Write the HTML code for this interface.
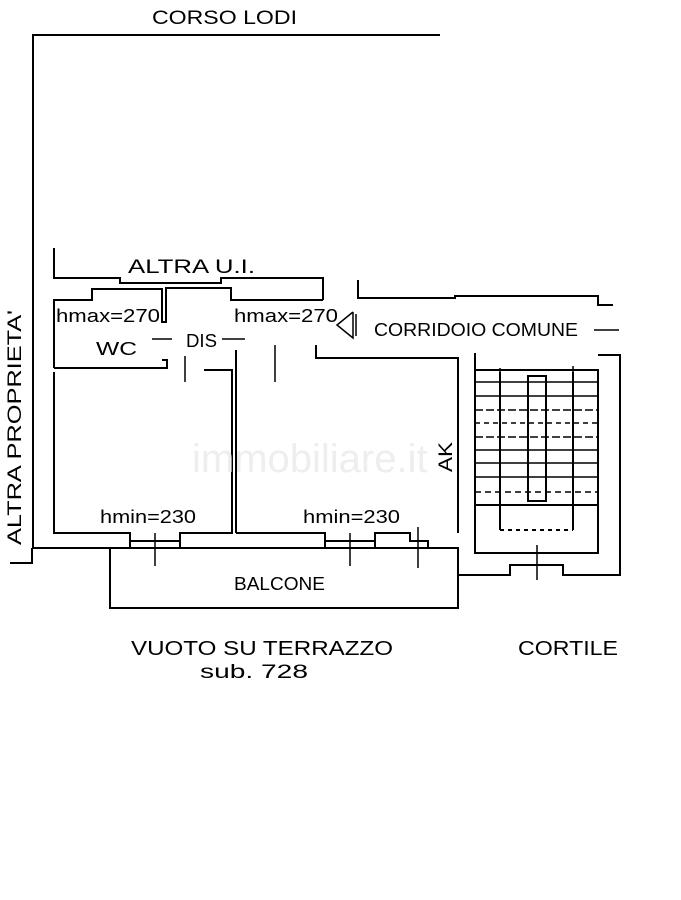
<!DOCTYPE html>
<html><head><meta charset="utf-8"><style>
html,body{margin:0;padding:0;background:#fff;width:681px;height:900px;overflow:hidden}
svg{display:block}
text{font-family:"Liberation Sans",sans-serif;fill:#000}
</style></head><body>
<svg width="681" height="900" viewBox="0 0 681 900" xmlns="http://www.w3.org/2000/svg">
<g stroke="#000" stroke-width="2" fill="none">
<polyline points="440,35 33,35 33,548"/>
<polyline points="10,563 32,563 32,548"/>
<line x1="33" y1="548" x2="428" y2="548"/>
<polyline points="54,248 54,278 120,278 120,283 221,283 221,278 323,278 323,300"/>
<polyline points="54,368 54,300 92,300 92,289 162,289 162,322 166,322 166,288 231,288 231,300 323,300"/>
<polyline points="54,368 167,368 167,360 162,360"/>
<polyline points="54,372 54,533 130,533 130,548"/>
<polyline points="180,548 180,533 232,533 232,370 204,370"/>
<line x1="236" y1="533" x2="236" y2="350"/>
<polyline points="236,533 325,533 325,548"/>
<polyline points="130,541 180,541"/>
<polyline points="325,541 375,541"/>
<polyline points="375,548 375,533 410,533 410,541 428,541 428,548"/>
<polyline points="316,345 316,358 458,358 458,533"/>
<polyline points="428,548 458,548 458,608 110,608 110,548"/>
<polyline points="358,280 358,298 455,298 455,296 475,296 598,296 598,305 613,305"/>
<polyline points="475,353 475,553 598,553 598,370 475,370"/>
<polyline points="598,355 620,355 620,575 563,575 563,565 510,565 510,575 458,575"/>
<rect x="528" y="376" width="18" height="125"/>
<line x1="500" y1="372" x2="500" y2="530"/>
<line x1="573" y1="372" x2="573" y2="530"/>
<line x1="500" y1="530" x2="573" y2="530" stroke-dasharray="4,4"/>
<line x1="475" y1="505" x2="598" y2="505"/>
</g>
<g stroke="#000" stroke-width="1.5">
<line x1="475" y1="382" x2="598" y2="382"/><line x1="475" y1="396" x2="598" y2="396"/>
<line x1="475" y1="410" x2="598" y2="410" stroke-dasharray="8,3"/><line x1="475" y1="423" x2="598" y2="423" stroke-dasharray="5,4"/>
<line x1="475" y1="437" x2="598" y2="437" stroke-dasharray="8,3"/><line x1="475" y1="450" x2="598" y2="450"/>
<line x1="475" y1="463" x2="598" y2="463"/><line x1="475" y1="477" x2="598" y2="477"/>
<line x1="475" y1="492" x2="598" y2="492" stroke-dasharray="6,4"/>
<line x1="155" y1="533" x2="155" y2="566"/><line x1="350" y1="533" x2="350" y2="566"/>
<line x1="418" y1="527" x2="418" y2="568"/><line x1="537" y1="545" x2="537" y2="580"/>
<line x1="185" y1="356" x2="185" y2="382"/><line x1="275" y1="345" x2="275" y2="382"/>
<line x1="152" y1="339" x2="172" y2="339"/><line x1="222" y1="339" x2="245" y2="339"/>
<line x1="594" y1="330" x2="619" y2="330"/>
<polyline points="353,312 337,325 353,338 353,312" fill="none"/>
<line x1="356" y1="314" x2="356" y2="336"/>
<line x1="500" y1="372" x2="500" y2="368"/><line x1="573" y1="366" x2="573" y2="372"/>
</g>
<text x="152" y="24" font-size="19" textLength="145" lengthAdjust="spacingAndGlyphs">CORSO LODI</text>
<text x="128" y="273" font-size="19" textLength="127" lengthAdjust="spacingAndGlyphs">ALTRA U.I.</text>
<text x="56" y="322" font-size="18" textLength="104" lengthAdjust="spacingAndGlyphs">hmax=270</text>
<text x="234" y="322" font-size="18" textLength="104" lengthAdjust="spacingAndGlyphs">hmax=270</text>
<text x="374" y="336" font-size="18" textLength="204" lengthAdjust="spacingAndGlyphs">CORRIDOIO COMUNE</text>
<text x="96" y="355" font-size="18" textLength="41" lengthAdjust="spacingAndGlyphs">WC</text>
<text x="186" y="347" font-size="18" textLength="31" lengthAdjust="spacingAndGlyphs">DIS</text>
<text x="100" y="523" font-size="18" textLength="96" lengthAdjust="spacingAndGlyphs">hmin=230</text>
<text x="303" y="523" font-size="18" textLength="97" lengthAdjust="spacingAndGlyphs">hmin=230</text>
<text x="234" y="590" font-size="18" textLength="91" lengthAdjust="spacingAndGlyphs">BALCONE</text>
<text x="131" y="655" font-size="20" textLength="262" lengthAdjust="spacingAndGlyphs">VUOTO SU TERRAZZO</text>
<text x="200" y="678" font-size="19" textLength="108" lengthAdjust="spacingAndGlyphs">sub. 728</text>
<text x="518" y="655" font-size="20" textLength="100" lengthAdjust="spacingAndGlyphs">CORTILE</text>
<text transform="translate(21,545) rotate(-90)" font-size="19" textLength="235" lengthAdjust="spacingAndGlyphs">ALTRA PROPRIETA'</text>
<text transform="translate(452,472) rotate(-90)" font-size="19" textLength="30" lengthAdjust="spacingAndGlyphs">AK</text>
<text x="192" y="472" font-size="40" style="fill:#eeeeee">immobiliare.it</text>
</svg>
</body></html>
